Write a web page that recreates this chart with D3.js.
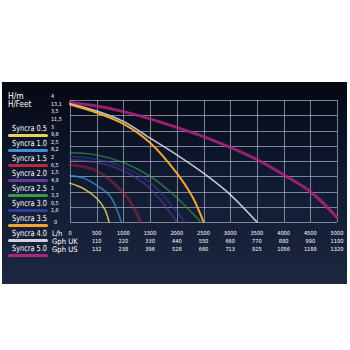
<!DOCTYPE html>
<html><head><meta charset="utf-8">
<script src="https://cdn.jsdelivr.net/npm/d3@7"></script>
<style>html,body{margin:0;padding:0;background:#fff;}svg{display:block;}</style>
</head><body>
<script>
const seriesNames = ["Syncra 0.5","Syncra 1.0","Syncra 1.5","Syncra 2.0","Syncra 2.5","Syncra 3.0","Syncra 3.5","Syncra 4.0","Syncra 5.0"];
const seriesColors = ["#e6d35a","#3d8fd6","#b8283e","#6a3a9a","#3a9a48","#2a3f98","#f0a632","#cfd2dc","#b0237c"];
// flow L/h, head m
const s05 = [[0,1.27],[250,1.1],[500,0.78],[650,0.42],[730,0]];
const s10 = [[0,1.52],[250,1.44],[500,1.2],[750,0.85],[960,0]];
const s15 = [[0,1.88],[500,1.68],[1000,0.95],[1200,0.45],[1320,0]];
const s20 = [[0,2.05],[500,1.95],[1000,1.68],[1500,1.1],[2000,0]];
const s25 = [[0,2.27],[500,2.2],[1000,1.95],[1500,1.5],[2000,0.8],[2450,0]];
const s30 = [[0,2.15],[500,2.06],[1000,1.8],[1500,1.3],[1900,0.55],[2150,0]];
const s35 = [[0,3.85],[500,3.58],[1000,3.22],[1500,2.6],[2000,1.6],[2300,0.8],[2500,0]];
const s40 = [[0,3.88],[500,3.64],[1000,3.3],[1500,2.75],[2000,2.2],[2500,1.6],[3000,0.9],[3500,0]];
const s50 = [[0,3.92],[500,3.8],[1000,3.62],[1500,3.38],[2000,3.1],[2500,2.8],[3000,2.45],[3500,2.05],[4000,1.55],[4500,1.0],[5000,0.15]];
const seriesData = [s05,s10,s15,s20,s25,s30,s35,s40,s50];
const lineWidths = [1.6,1.6,3,2,1.5,2,2,1.6,3];
const lineOpacity = [0.85,0.75,0.45,0.5,0.65,0.55,1,0.95,0.85];

const xTicks = [0,500,1000,1500,2000,2500,3000,3500,4000,4500,5000];
const gphUK = ["","110","220","330","440","550","660","770","880","990","1100"];
const gphUS = ["","132","238","396","528","660","713","925","1056","1188","1320"];
const yTicks = [0,0.5,1,1.5,2,2.5,3,3.5,4];
const yMetre = ["0","0,5","1","1,5","2","2,5","3","3,5","4"];
const yFeet = ["","1,6","3,3","4,9","6,5","8,2","9,8","11,5","13,1"];

const W=350,H=350;
const svg=d3.select("body").append("svg").attr("width",W).attr("height",H);
const defs=svg.append("defs");
const g=defs.append("linearGradient").attr("id","bg").attr("x1",0).attr("y1",0).attr("x2",0).attr("y2",1);
g.append("stop").attr("offset","0%").attr("stop-color","#050814");
g.append("stop").attr("offset","45%").attr("stop-color","#0f1930");
g.append("stop").attr("offset","100%").attr("stop-color","#1c2740");
svg.append("rect").attr("x",2).attr("y",82).attr("width",345).attr("height",202).attr("fill","url(#bg)");

const x=d3.scaleLinear().domain([0,5000]).range([70,337]);
const y=d3.scaleLinear().domain([0,4]).range([222,100]);

const font="'DejaVu Sans Condensed','DejaVu Sans',sans-serif";
// grid
const grid=svg.append("g").attr("stroke","#aab2c6").attr("stroke-opacity",0.7).attr("stroke-width",1);
grid.selectAll("line.v").data(xTicks).join("line").attr("class","v")
 .attr("x1",d=>Math.round(x(d))+0.5).attr("x2",d=>Math.round(x(d))+0.5).attr("y1",y(4)).attr("y2",y(0));
grid.selectAll("line.h").data(yTicks).join("line").attr("class","h")
 .attr("y1",d=>Math.round(y(d))+0.5).attr("y2",d=>Math.round(y(d))+0.5).attr("x1",x(0)).attr("x2",x(5000));

// curves
const line=d3.line().x(d=>x(d[0])).y(d=>y(d[1])).curve(d3.curveCatmullRom.alpha(0.5));
const order=[5,3,2,4,1,0,8,7,6];
svg.append("g").selectAll("path").data(order).join("path")
 .attr("d",i=>line(seriesData[i])).attr("fill","none").attr("stroke-linecap","round")
 .attr("stroke",i=>seriesColors[i]).attr("stroke-width",i=>lineWidths[i]).attr("stroke-opacity",i=>lineOpacity[i]);

// y labels
svg.append("text").attr("x",8).attr("y",99).attr("fill","#fff").attr("font-family",font).attr("font-size",8.5).text("H/m");
svg.append("text").attr("x",8).attr("y",107).attr("fill","#fff").attr("font-family",font).attr("font-size",8).text("H/Feet");
const yl=svg.append("g").attr("fill","#fff").attr("font-family",font).attr("font-size",5.4);
yl.selectAll("text.m").data(yTicks).join("text").attr("class","m")
 .attr("x",(d,i)=> i===0 ? 54 : 51).attr("y",(d,i)=> i===0 ? y(d)+2 : y(d)-2).text((d,i)=>yMetre[i]);
yl.selectAll("text.f").data(yTicks).join("text").attr("class","f")
 .attr("x",51).attr("y",d=>y(d)+5.6).text((d,i)=>yFeet[i]);

// x labels
const rows=[["L/h",235,xTicks.map(String)],["Gph UK",243,gphUK],["Gph US",251,gphUS]];
rows.forEach(r=>{
  svg.append("text").attr("x",52).attr("y",r[1]+1).attr("fill","#fff").attr("font-family",font).attr("font-size",7.6).text(r[0]);
  svg.append("g").selectAll("text").data(xTicks).join("text")
   .attr("x",d=>x(d)).attr("y",r[1]).attr("text-anchor","middle").attr("fill","#fff")
   .attr("font-family",font).attr("font-size",5.6).text((d,i)=>r[2][i]);
});

// legend
const lg=svg.append("g");
seriesNames.forEach((n,i)=>{
  const yy=131+i*15;
  lg.append("text").attr("transform",`translate(12,${yy}) scale(1,1.15)`).attr("fill","#fff").attr("font-family",font).attr("font-size",7.3).text(n);
  lg.append("rect").attr("x",8).attr("y",yy+3).attr("width",40).attr("height",3).attr("rx",1.5).attr("fill",seriesColors[i]);
});
</script>
</body></html>
